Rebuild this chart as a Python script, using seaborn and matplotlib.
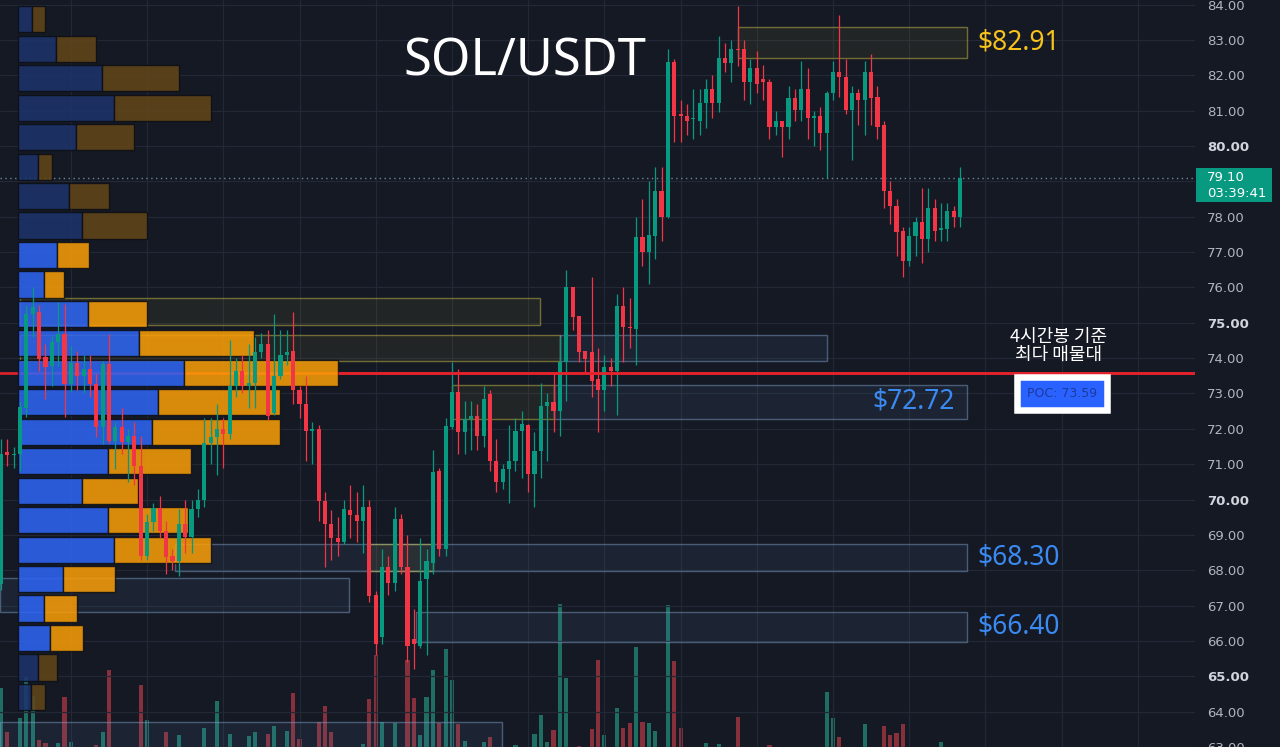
import numpy as np
import pandas as pd
import seaborn as sns
import matplotlib.pyplot as plt
from matplotlib import transforms
from matplotlib.patches import Rectangle

# SOL/USDT 4h candles, oldest -> newest
opens = [67.62, 71.35, 71.25, 71.29, 72.60, 75.24, 75.30, 74.03, 73.77, 74.45,
         74.68, 73.27, 73.86, 73.50, 73.69, 73.27, 72.05, 73.83, 71.66, 72.05,
         71.63, 71.80, 70.95, 68.40, 69.37, 69.75, 69.10, 68.40, 68.27, 69.30,
         68.94, 69.73, 70.00, 71.60, 71.77, 72.00, 71.85, 73.20, 73.63, 73.20,
         73.30, 74.17, 74.40, 72.45, 73.49, 74.10, 74.20, 73.10, 72.70, 71.94,
         72.00, 69.96, 69.30, 68.90, 68.80, 69.70, 69.55, 69.40, 69.80, 67.30,
         66.10, 68.10, 67.65, 69.45, 68.10, 66.05, 65.85, 67.76, 68.20, 70.80,
         68.60, 72.05, 73.04, 71.90, 72.27, 72.35, 71.80, 72.98, 71.10, 70.50,
         70.86, 71.10, 71.94, 72.10, 70.72, 71.37, 72.64, 72.76, 72.50, 73.90,
         76.00, 75.20, 74.20, 74.17, 73.40, 73.10, 73.75, 73.63, 75.47, 74.88,
         74.82, 77.42, 77.00, 77.45, 78.72, 77.98, 82.39, 80.90, 80.85, 80.75,
         80.70, 81.23, 81.60, 81.23, 82.50, 82.36, 82.75, 82.73, 81.82, 82.20,
         81.90, 81.80, 80.55, 80.70, 80.55, 81.37, 81.03, 81.60, 80.80, 80.85,
         80.38, 81.50, 82.08, 81.95, 81.03, 81.50, 81.30, 82.10, 81.40, 80.60,
         78.72, 78.30, 77.60, 76.74, 77.45, 77.84, 77.36, 78.24, 77.62, 77.65,
         78.15, 78.00]
highs = [71.70, 71.70, 71.50, 72.79, 75.50, 76.00, 75.50, 74.40, 74.62, 75.60,
         75.52, 74.34, 74.20, 74.10, 74.10, 73.55, 73.92, 74.68, 72.20, 72.60,
         72.00, 72.20, 71.80, 69.60, 69.90, 70.10, 69.40, 68.60, 69.73, 70.00,
         70.00, 70.30, 72.30, 72.30, 72.70, 72.30, 74.50, 74.00, 74.10, 74.40,
         74.60, 74.70, 74.80, 75.24, 74.80, 74.80, 75.30, 73.20, 73.50, 72.20,
         72.10, 70.20, 69.70, 69.50, 70.00, 70.40, 70.20, 70.40, 70.00, 67.40,
         68.60, 68.40, 69.80, 69.60, 69.00, 66.90, 68.90, 68.60, 71.40, 70.90,
         72.30, 73.90, 73.70, 72.80, 72.80, 72.70, 73.20, 73.10, 71.70, 71.00,
         72.10, 72.30, 72.50, 72.15, 71.90, 73.30, 73.00, 73.60, 74.60, 76.50,
         76.00, 75.20, 74.20, 76.30, 74.30, 74.10, 74.00, 75.80, 76.00, 75.70,
         78.00, 78.50, 79.00, 79.40, 79.40, 82.74, 82.45, 81.30, 81.20, 81.60,
         81.60, 81.90, 82.00, 83.10, 82.90, 83.00, 83.95, 83.00, 82.45, 82.70,
         82.30, 81.90, 81.00, 80.70, 81.70, 81.60, 82.40, 82.20, 81.00, 81.10,
         81.55, 82.40, 83.70, 82.45, 81.70, 81.60, 82.40, 82.60, 81.70, 80.70,
         79.00, 78.50, 77.70, 77.70, 78.00, 78.80, 78.80, 78.50, 78.40, 78.40,
         78.30, 79.40]
lows = [67.45, 70.95, 70.90, 70.80, 72.33, 74.60, 73.63, 72.84, 73.20, 73.77,
        72.33, 73.04, 73.10, 73.00, 72.90, 71.77, 71.57, 71.60, 70.86, 71.30,
        70.50, 70.40, 68.30, 68.30, 69.10, 68.90, 67.90, 68.00, 67.85, 68.50,
        68.50, 69.50, 69.80, 71.00, 70.70, 70.90, 71.70, 72.90, 73.00, 72.60,
        72.60, 74.00, 72.25, 72.40, 73.40, 73.80, 72.70, 72.30, 71.10, 71.00,
        69.40, 68.10, 68.30, 68.40, 68.75, 68.90, 68.80, 68.50, 67.10, 65.60,
        65.90, 67.30, 67.40, 67.90, 65.40, 65.20, 65.80, 65.60, 67.90, 68.40,
        68.40, 72.00, 71.30, 71.30, 71.40, 71.40, 71.50, 70.80, 70.20, 70.30,
        69.90, 70.80, 70.60, 70.20, 69.80, 70.60, 71.10, 71.90, 71.80, 72.80,
        74.80, 73.90, 73.60, 72.90, 71.90, 72.50, 73.20, 72.40, 73.90, 74.30,
        73.80, 76.60, 76.10, 76.80, 77.30, 77.95, 80.10, 80.10, 80.30, 80.20,
        80.30, 80.50, 80.80, 80.95, 82.10, 81.80, 82.25, 81.30, 81.20, 81.50,
        81.30, 80.20, 80.30, 79.70, 80.20, 80.70, 80.70, 80.20, 80.00, 79.90,
        79.10, 81.30, 81.40, 80.90, 79.60, 80.60, 80.30, 80.60, 80.20, 78.26,
        77.80, 76.90, 76.30, 76.60, 76.90, 76.70, 77.00, 77.30, 77.30, 77.30,
        77.70, 77.70]
closes = [71.29, 71.25, 71.30, 72.62, 75.24, 75.45, 73.97, 73.75, 74.45, 74.68,
          73.27, 73.86, 73.50, 73.69, 73.27, 72.05, 73.83, 71.66, 72.05, 71.63,
          71.80, 70.95, 68.40, 69.37, 69.75, 69.10, 68.38, 68.27, 69.30, 68.94,
          69.73, 70.00, 71.60, 71.77, 72.00, 71.85, 73.20, 73.63, 73.20, 73.30,
          74.17, 74.40, 72.36, 73.49, 74.10, 74.17, 73.10, 72.70, 71.94, 72.00,
          69.96, 69.30, 68.90, 68.80, 69.73, 69.55, 69.40, 69.80, 67.28, 65.90,
          68.10, 67.65, 69.45, 68.10, 65.85, 65.90, 67.70, 68.25, 70.78, 68.60,
          72.08, 73.04, 71.90, 72.27, 72.35, 71.80, 72.84, 71.10, 70.50, 70.86,
          71.10, 71.94, 72.14, 70.72, 71.37, 72.64, 72.76, 72.50, 73.90, 76.00,
          75.15, 74.17, 73.97, 73.35, 73.10, 73.75, 73.63, 75.47, 74.88, 74.85,
          77.42, 77.00, 77.48, 78.72, 77.98, 82.39, 80.84, 80.85, 80.70, 80.80,
          81.23, 81.60, 81.23, 82.50, 82.36, 82.73, 82.72, 81.82, 82.20, 81.74,
          81.80, 80.55, 80.70, 80.55, 81.37, 81.03, 81.60, 80.80, 80.85, 80.38,
          81.50, 82.08, 81.95, 81.03, 81.50, 81.30, 82.10, 81.37, 80.55, 78.72,
          78.30, 77.56, 76.74, 77.45, 77.84, 77.36, 78.24, 77.60, 77.68, 78.15,
          78.00, 79.10]
volumes = [72, 28, 10, 42, 83, 64, 20, 17, 10, 17,
           63, 18, 10, 10, 10, 15, 28, 90, 10, 10,
           10, 10, 75, 40, 10, 10, 28, 10, 25, 10,
           10, 10, 32, 10, 59, 10, 26, 10, 10, 24,
           28, 10, 26, 34, 10, 29, 67, 21, 10, 10,
           38, 54, 28, 10, 10, 10, 10, 16, 61, 105,
           38, 10, 37, 10, 100, 62, 25, 63, 90, 37,
           111, 80, 36, 19, 10, 10, 18, 23, 10, 10,
           10, 15, 10, 10, 26, 45, 18, 30, 156, 82,
           10, 14, 10, 31, 100, 25, 10, 52, 32, 37,
           113, 38, 37, 29, 10, 155, 99, 32, 10, 10,
           10, 17, 10, 16, 10, 10, 43, 10, 10, 10,
           10, 15, 10, 10, 10, 10, 10, 10, 10, 10,
           68, 42, 23, 10, 10, 10, 36, 10, 10, 34,
           25, 27, 36, 10, 10, 10, 10, 10, 18, 10,
           10, 10]

# visible-range volume profile, 24 rows from 84.00 down to 64.00
vp_top, vp_bottom = 84.0, 64.0
vp_up = [14, 38, 84, 96, 58, 20, 51, 64, 39, 26, 70, 121,
         166, 140, 134, 90, 64, 90, 96, 45, 26, 32, 20, 13]
vp_down = [13, 40, 77, 97, 58, 14, 40, 65, 32, 20, 59, 115,
           154, 122, 128, 83, 56, 80, 97, 52, 33, 33, 19, 14]
value_area = (65.67, 77.33)
poc_price = 73.59
last_price = 79.10
countdown = "03:39:41"

# drawn zones: price band and candle span
zone_low = [82.50, 74.93, 73.92, 73.92, 72.28, 72.28, 67.98, 67.98, 66.82, 65.98, 62.50]
zone_high = [83.38, 75.70, 74.65, 74.65, 73.25, 73.25, 68.74, 68.74, 67.78, 66.82, 63.72]
zone_start = [116.1, 3.0, 3.0, 88.0, 71.0, 87.0, 27.4, 58.0, -0.2, 65.4, -0.2]
zone_end = [152.1, 84.9, 88.0, 130.0, 87.0, 152.1, 152.1, 68.0, 54.8, 152.1, 78.9]
zone_kind = ['supply', 'supply', 'supply', 'demand', 'supply', 'demand',
             'demand', 'supply', 'demand', 'demand', 'demand']

level_labels = ['$82.91', '$72.72', '$68.30', '$66.40']
level_prices = [82.94, 72.76, 68.37, 66.40]
level_kind = ['supply', 'demand', 'demand', 'demand']

bg = '#151924'
up_col, down_col = '#089981', '#f23645'

sns.set_theme(style='dark', rc={'axes.facecolor': bg, 'figure.facecolor': bg,
                                'axes.edgecolor': bg, 'grid.color': '#232835'})
plt.rcParams['font.family'] = ['DejaVu Sans', 'Noto Sans CJK KR']

o = np.array(opens); h = np.array(highs); l = np.array(lows); c = np.array(closes)
n = len(o)
idx = np.arange(n)
is_up = c >= o
cols = np.where(is_up, up_col, down_col)

fig = plt.figure(figsize=(12.8, 7.47), dpi=100)
ax = fig.add_axes([0, 0, 1195 / 1280, 1])
ax_vol = ax.twinx()
ax.set_zorder(2)
ax_vol.set_zorder(1)
ax.patch.set_visible(False)
ax_vol.patch.set_visible(False)

# volume bars (bottom layer)
vol_df = pd.DataFrame({'bar': idx, 'volume': volumes,
                       'side': np.where(is_up, 'up', 'down')})
sns.barplot(data=vol_df, x='bar', y='volume', hue='side',
            palette={'up': '#1e6e64', 'down': '#86303b'}, dodge=False,
            native_scale=True, width=0.65, errorbar=None, saturation=1,
            legend=False, edgecolor='none', linewidth=0, ax=ax_vol)
ax_vol.set_ylim(13, 760)
ax_vol.set_yticks([])
ax_vol.set_xlabel('')
ax_vol.set_ylabel('')
for s in ax_vol.spines.values():
    s.set_visible(False)

# grid
for y in range(63, 85):
    ax.axhline(y, color='#232835', lw=0.9, zorder=0)
for x in np.arange(11, 190, 12):
    ax.axvline(x, color='#232835', lw=0.9, zorder=0)

# zones
for lo, hi, x0, x1, kind in zip(zone_low, zone_high, zone_start, zone_end, zone_kind):
    if kind == 'supply':
        fc, ec = ('#ffeb3b', 0.06), ('#d8cc48', 0.45)
    else:
        fc, ec = ('#5a86b8', 0.10), ('#7b9cc4', 0.5)
    ax.add_patch(Rectangle((x0, lo), x1 - x0, hi - lo, facecolor=fc,
                           edgecolor=ec, lw=1, zorder=1))

# POC line under the profile
ax.axhline(poc_price, color='#e3222c', lw=1.9, zorder=2)
ax.axhline(last_price, color='#6a8a99', lw=1, ls=(0, (1, 2.5)), zorder=2)

# volume profile
row_h = (vp_top - vp_bottom) / len(vp_up)
centers = vp_top - row_h * (np.arange(len(vp_up)) + 0.5)
vp_left = 2.7
vp_scale = 6.35
inside = (centers > value_area[0]) & (centers < value_area[1])
up_w = np.array(vp_up) / vp_scale
down_w = np.array(vp_down) / vp_scale
ax.barh(centers, up_w, left=vp_left, height=0.74,
        color=np.where(inside, '#2e66f6', '#1d336b'),
        alpha=0.85, edgecolor='#0c0e14', lw=1, zorder=3)
ax.barh(centers, down_w, left=vp_left + up_w, height=0.74,
        color=np.where(inside, '#fc9f07', '#634619'),
        alpha=0.85, edgecolor='#0c0e14', lw=1, zorder=3)
poc_row = np.argmin(np.abs(centers - poc_price))
poc_end = vp_left + up_w[poc_row] + down_w[poc_row]
ax.hlines(poc_price, poc_end, 190, color='#e3222c', lw=1.9, zorder=6)

# candles
ax.vlines(idx, l, h, colors=cols, lw=0.9, zorder=4)
ax.bar(idx, np.maximum(np.abs(c - o), 0.03), bottom=np.minimum(o, c),
       width=0.65, color=cols, lw=0, zorder=5)

ax.set_xlim(-0.16, 188.0)
ax.set_ylim(63.0, 84.13)
ax.set_xticks([])
ticks = list(range(63, 85))
ax.yaxis.tick_right()
ax.set_yticks(ticks)
ax.set_yticklabels(['' if t == 79 else f'{t:.2f}' for t in ticks])
ax.tick_params(axis='y', length=0, pad=8.5, labelsize=9.5, labelcolor='#b2b5be')
for lbl, t in zip(ax.get_yticklabels(), ticks):
    if t % 5 == 0:
        lbl.set_fontweight('bold')
        lbl.set_color('#d1d4dc')
for s in ax.spines.values():
    s.set_visible(False)

# level labels
for txt, y, kind in zip(level_labels, level_prices, level_kind):
    col = '#f8c21c' if kind == 'supply' else '#3b8af2'
    if txt == '$72.72':
        ax.text(150.2, y, txt, ha='right', va='center', fontsize=19, color=col,
                family='Noto Sans', zorder=7)
    else:
        ax.text(153.7, y, txt, ha='left', va='center', fontsize=19, color=col,
                family='Noto Sans', zorder=7)

fig.text(0.41, 0.917, 'SOL/USDT', ha='center', va='center', fontsize=36.5,
         color='white', family='Noto Sans')

ax.text(166.5, 74.35, '4시간봉 기준\n최다 매물대', ha='center', va='center',
        color='white', fontsize=13, linespacing=1.0,
        family=['Noto Sans CJK KR', 'DejaVu Sans'], zorder=7)
ax.text(167.1, 72.99, f'POC: {poc_price:.2f}', ha='center', va='center',
        fontsize=9, color='#1d3a9e', zorder=7,
        bbox=dict(boxstyle='square,pad=0.8', facecolor='#2962ff',
                  edgecolor='white', linewidth=4.7))

# last price tag
tr = transforms.blended_transform_factory(fig.transFigure, ax.transData)
fig.add_artist(Rectangle((1196 / 1280, last_price - 0.68), 76 / 1280, 0.96,
                         transform=tr, facecolor=up_col, edgecolor='none'))
fig.text(1207 / 1280, last_price, f'{last_price:.2f}', transform=tr,
         ha='left', va='center', fontsize=9.5, color='white')
fig.text(1207 / 1280, last_price - 0.45, countdown, transform=tr,
         ha='left', va='center', fontsize=9.5, color='white')

fig.savefig('out.png', dpi=100, facecolor=bg)
